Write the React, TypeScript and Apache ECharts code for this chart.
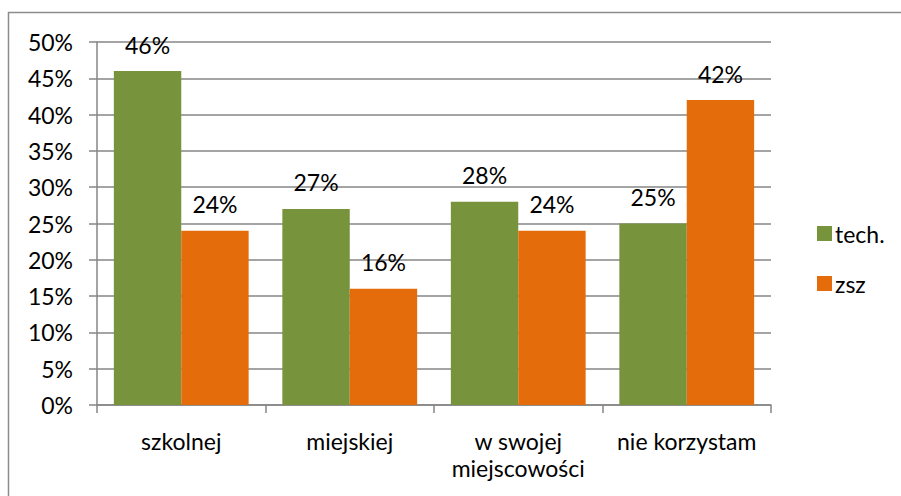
import React, { useEffect, useRef } from "react";
import * as echarts from "echarts";

const categories = ["szkolnej", "miejskiej", "w swojej\nmiejscowości", "nie korzystam"];
const techValues = [46, 27, 28, 25];
const zszValues = [24, 16, 24, 42];
const seriesNames = ["tech.", "zsz"];

export default function App() {
  const ref = useRef<HTMLDivElement>(null);
  useEffect(() => {
    const chart = echarts.init(ref.current!, null, { renderer: "svg" });
    const font = "Lato, 'Open Sans', sans-serif";
    const fs = 23;
    const labelStyle = {
      show: true,
      position: "top" as const,
      distance: 15,
      formatter: (p: any) => p.value + "%",
      color: "#000",
      fontSize: fs,
      fontFamily: font,
    };
    chart.setOption({
      animation: false,
      backgroundColor: "#fff",
      graphic: [
        {
          type: "rect",
          shape: { x: 8.5, y: 12.5, width: 1000, height: 1000 },
          style: { fill: "none", stroke: "#8c8c8c", lineWidth: 1.5 },
          silent: true,
        },
      ],
      grid: { left: 97, right: 130, top: 42, bottom: 91 },
      legend: {
        orient: "vertical",
        left: 812,
        top: 217,
        itemWidth: 15,
        itemHeight: 15,
        itemGap: 27,
        itemStyle: { borderWidth: 0 },
        icon: "rect",
        textStyle: { fontSize: fs, fontFamily: font, color: "#000", padding: [0, 0, 0, -2] },
        data: seriesNames,
      },
      xAxis: {
        type: "category",
        data: categories,
        axisLine: { lineStyle: { color: "#868686", width: 1.5 } },
        axisTick: { show: true, length: 8, lineStyle: { color: "#868686", width: 1.5 } },
        axisLabel: {
          color: "#000",
          fontSize: fs,
          fontFamily: font,
          margin: 22,
          lineHeight: 27,
          interval: 0,
        },
      },
      yAxis: {
        type: "value",
        min: 0,
        max: 50,
        interval: 5,
        axisLine: { show: true, lineStyle: { color: "#868686", width: 1.5 } },
        axisTick: { show: true, length: 8, lineStyle: { color: "#868686", width: 1.5 } },
        splitLine: { lineStyle: { color: "#868686", width: 1.5 } },
        axisLabel: {
          color: "#000",
          fontSize: fs,
          fontFamily: font,
          margin: 24,
          formatter: "{value}%",
        },
      },
      series: [
        {
          name: seriesNames[0],
          type: "bar",
          data: techValues,
          itemStyle: { color: "#77933C" },
          barGap: "0%",
          barCategoryGap: "20%",
          label: labelStyle,
        },
        {
          name: seriesNames[1],
          type: "bar",
          data: zszValues,
          itemStyle: { color: "#E46C0A" },
          barGap: "0%",
          barCategoryGap: "20%",
          label: labelStyle,
        },
      ],
    });
    return () => chart.dispose();
  }, []);
  return (
    <div
      ref={ref}
      style={{ position: "absolute", left: 0, top: 0, width: 901, height: 496 }}
    />
  );
}
